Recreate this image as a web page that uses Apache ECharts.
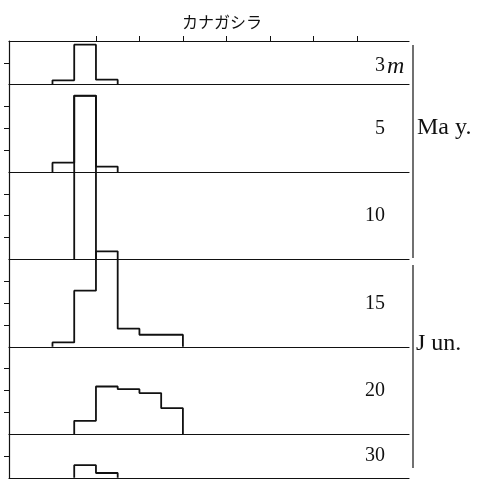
<!DOCTYPE html>
<html>
<head>
<meta charset="utf-8">
<script src="https://cdn.jsdelivr.net/npm/echarts@6/dist/echarts.min.js"></script>
<style>html,body{margin:0;padding:0;background:#fff;}#c{width:485px;height:481px;}</style>
</head>
<body>
<div id="c"></div>
<script>
// ---- data ----
const title = 'カナガシラ';
const depths = ['3', '5', '10', '15', '20', '30'];
const depthUnit = 'm';
const months = ['Ma y.', 'J un.'];
const firstBin = [2, 2, 3, 2, 3, 3];
const v3 = [0.2, 1.83, 0.23];
const v5 = [0.43, 3.49, 0.25];
const v10 = [7.5];
const v15 = [0.2, 2.57, 4.37, 0.83, 0.55, 0.55];
const v20 = [0.61, 2.18, 2.06, 1.88, 1.19];
const v30 = [0.58, 0.22];
const panelMax = [2, 4, 4, 4, 4, 2];
const xMax = 18.4;
const topTicks = [4, 6, 8, 10, 12, 14, 16];

const values = [v3, v5, v10, v15, v20, v30];

// ---- layout ----
const L = 9, W = 400, TOP = 41, U = 21.84;
const ink = '#111';
function steps(start, vals) {
  const pts = [[start, 0]];
  vals.forEach((v, i) => { pts.push([start + i, v], [start + i + 1, v]); });
  pts.push([start + vals.length, 0]);
  return pts;
}
const grids = [], xAxes = [], yAxes = [], series = [], graphics = [];
let y = TOP;
const bottoms = [];
panelMax.forEach((m, i) => {
  const h = m * U;
  grids.push({left: L, top: y, width: W, height: h});
  y += h;
  bottoms.push(y);
  xAxes.push({gridIndex: i, type: 'value', min: 0, max: xMax, position: 'bottom',
    axisLine: {show: true, onZero: false, lineStyle: {color: ink, width: 1.2}},
    axisTick: {show: false}, axisLabel: {show: false}, splitLine: {show: false}});
  const tv = []; for (let k = 1; k < m; k++) tv.push(k);
  yAxes.push({gridIndex: i, type: 'value', min: 0, max: m, interval: 1,
    axisLine: {show: true, onZero: false, lineStyle: {color: ink, width: 1.2}},
    axisTick: {show: true, inside: false, length: 5, customValues: tv, lineStyle: {color: ink, width: 1}},
    axisLabel: {show: false}, splitLine: {show: false}});
  series.push({type: 'line', xAxisIndex: i, yAxisIndex: i, data: steps(firstBin[i], values[i]),
    symbol: 'none', clip: false, z: 5, lineStyle: {color: ink, width: 1.8}});
});
xAxes.push({gridIndex: 0, type: 'value', min: 0, max: xMax, position: 'top',
  axisLine: {show: true, onZero: false, lineStyle: {color: ink, width: 1.2}},
  axisTick: {show: true, inside: false, length: 5, customValues: topTicks, lineStyle: {color: ink, width: 1}},
  axisLabel: {show: false}, splitLine: {show: false}});

// depth labels
const serif = 'Liberation Serif';
depths.forEach((d, i) => {
  const half = panelMax[i] < 4;
  const cy = half ? (bottoms[i] - panelMax[i] * U / 2 + (i === 0 ? 3 : 0)) : bottoms[i] - 43.5;
  graphics.push({type: 'text', x: 385, y: cy, style: {text: d, fill: ink, font: '20px ' + serif, align: 'right', verticalAlign: 'middle'}});
  if (i === 0) {
    graphics.push({type: 'text', x: 387, y: cy + 1, style: {text: depthUnit, fill: ink, font: 'italic 24px ' + serif, align: 'left', verticalAlign: 'middle'}});
  }
});
// month brackets
graphics.push({type: 'line', shape: {x1: 413, y1: 45, x2: 413, y2: 258}, style: {stroke: ink, lineWidth: 1.2}});
graphics.push({type: 'line', shape: {x1: 413, y1: 265, x2: 413, y2: 468}, style: {stroke: ink, lineWidth: 1.2}});
graphics.push({type: 'text', x: 417, y: 128, style: {text: months[0], fill: ink, font: '24px ' + serif, align: 'left', verticalAlign: 'middle'}});
graphics.push({type: 'text', x: 416, y: 344, style: {text: months[1], fill: ink, font: '24px ' + serif, align: 'left', verticalAlign: 'middle'}});

const chart = echarts.init(document.getElementById('c'), null, {renderer: 'canvas'});
chart.setOption({
  animation: false,
  backgroundColor: '#fff',
  title: {text: title, left: 177, top: 9, textStyle: {fontFamily: 'Noto Sans CJK JP', fontSize: 16, fontWeight: 'normal', color: ink}},
  grid: grids, xAxis: xAxes, yAxis: yAxes, series: series, graphic: graphics
});
</script>
</body>
</html>
